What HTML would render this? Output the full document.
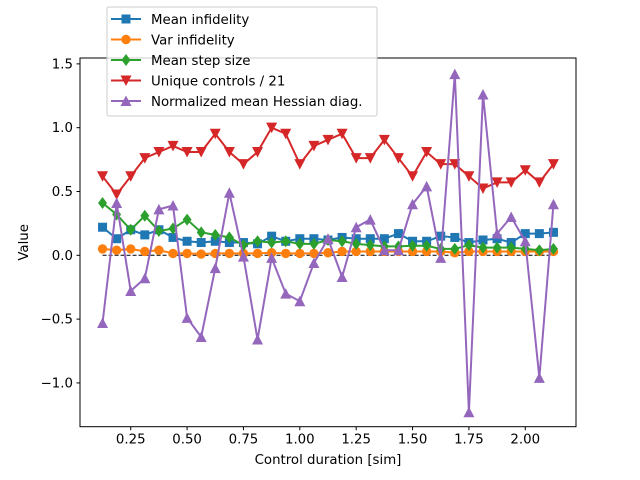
<!DOCTYPE html>
<html><head><meta charset="utf-8"><style>
body{margin:0;background:#fff;}
svg{display:block;font-family:"DejaVu Sans","Liberation Sans",sans-serif;}
</style></head><body>
<svg id="chart" width="640" height="480" viewBox="0 0 640 480" xmlns="http://www.w3.org/2000/svg"></svg>
<script>
const durations = [];
for (let i = 0; i < 33; i++) durations.push(0.125 + i * 0.0625);
const meanInfidelity = [0.22,0.13,0.20,0.16,0.20,0.14,0.11,0.10,0.11,0.10,0.10,0.09,0.15,0.11,0.13,0.13,0.12,0.14,0.13,0.13,0.13,0.17,0.11,0.11,0.15,0.14,0.10,0.12,0.13,0.10,0.17,0.17,0.18];
const varInfidelity = [0.05,0.04,0.05,0.03,0.04,0.015,0.015,0.01,0.015,0.015,0.015,0.015,0.02,0.015,0.015,0.015,0.02,0.03,0.03,0.03,0.03,0.03,0.03,0.03,0.03,0.02,0.03,0.03,0.03,0.03,0.03,0.03,0.03];
const meanStepSize = [0.41,0.32,0.20,0.31,0.19,0.21,0.28,0.18,0.16,0.14,0.08,0.11,0.10,0.11,0.09,0.09,0.12,0.11,0.09,0.08,0.07,0.07,0.075,0.075,0.05,0.05,0.08,0.06,0.06,0.06,0.05,0.04,0.05];
const uniqueControls = [13,10,13,16,17,18,17,17,20,17,15,17,21,20,15,18,19,20,16,16,19,16,13,17,15,15,13,11,12,12,14,12,15];
const hessianDiag = [-0.53,0.41,-0.28,-0.18,0.36,0.39,-0.49,-0.64,-0.10,0.49,-0.01,-0.66,-0.02,-0.30,-0.36,-0.06,0.13,-0.17,0.22,0.28,0.04,0.04,0.40,0.54,-0.02,1.42,-1.23,1.26,0.17,0.30,0.11,-0.96,0.40];
const xTicks = [0.25,0.5,0.75,1.0,1.25,1.5,1.75,2.0];
const xTickLabels = ["0.25","0.50","0.75","1.00","1.25","1.50","1.75","2.00"];
const yTicks = [-1.0,-0.5,0.0,0.5,1.0,1.5];
const yTickLabels = ["\u22121.0","\u22120.5","0.0","0.5","1.0","1.5"];

const L=80,R=576,T=58,B=426.7;
const xMin=0.025,xMax=2.225,yMin=-1.343,yMax=1.546;
const X=v=>L+(v-xMin)/(xMax-xMin)*(R-L);
const Y=v=>B-(v-yMin)/(yMax-yMin)*(B-T);
const svg=document.getElementById('chart');
const NS='http://www.w3.org/2000/svg';
function mk(tag,attrs,parent){const e=document.createElementNS(NS,tag);for(const k in attrs)e.setAttribute(k,attrs[k]);(parent||svg).appendChild(e);return e;}

const zl=mk('line',{x1:X(durations[0]),x2:X(durations[durations.length-1]),y1:Y(0),y2:Y(0),stroke:'#000','stroke-width':1,'stroke-dasharray':'4,2'});



function marker(type,cx,cy,color,g){
  let e;
  if(type==='s') e=mk('rect',{x:cx-4.5,y:cy-4.5,width:9,height:9,fill:color},g);
  else if(type==='o') e=mk('circle',{cx:cx,cy:cy,r:4.7,fill:color},g);
  else if(type==='d') e=mk('polygon',{points:`${cx},${cy-6} ${cx+4.5},${cy} ${cx},${cy+6} ${cx-4.5},${cy}`,fill:color},g);
  else if(type==='v') e=mk('polygon',{points:`${cx-5.5},${cy-5} ${cx+5.5},${cy-5} ${cx},${cy+5.5}`,fill:color},g);
  else e=mk('polygon',{points:`${cx-5.5},${cy+5} ${cx+5.5},${cy+5} ${cx},${cy-5.5}`,fill:color},g);
  return e;
}
const series=[
 {name:'Mean infidelity',vals:meanInfidelity,color:'#1f77b4',m:'s',id:'mean-infidelity'},
 {name:'Var infidelity',vals:varInfidelity,color:'#ff7f0e',m:'o',id:'var-infidelity'},
 {name:'Mean step size',vals:meanStepSize,color:'#2ca02c',m:'d',id:'mean-step-size'},
 {name:'Unique controls / 21',vals:uniqueControls.map(v=>v/21),color:'#d62728',m:'v',id:'unique-controls'},
 {name:'Normalized mean Hessian diag.',vals:hessianDiag,color:'#9467bd',m:'^',id:'hessian-diag'}
];
series.forEach(s=>{
  const g=mk('g',{});
  
  
  const pts=s.vals.map((v,i)=>X(durations[i])+','+Y(v)).join(' ');
  mk('polyline',{points:pts,fill:'none',stroke:s.color,'stroke-width':2},g);
  s.vals.forEach((v,i)=>{
    const p=marker(s.m,X(durations[i]),Y(v),s.color,g);
    
    
  });
});

const fr=mk('rect',{x:L,y:T,width:R-L,height:B-T,fill:'none',stroke:'#000','stroke-width':1});



xTicks.forEach((t,i)=>{
  mk('line',{x1:X(t),x2:X(t),y1:B,y2:B+3.5,stroke:'#000'});
  const tx=mk('text',{x:X(t),y:B+17,'font-size':'10pt','text-anchor':'middle',fill:'#000'});
  tx.textContent=xTickLabels[i];
  
  
});
yTicks.forEach((t,i)=>{
  mk('line',{x1:L,x2:L-3.5,y1:Y(t),y2:Y(t),stroke:'#000'});
  const tx=mk('text',{x:L-7,y:Y(t)+4.5,'font-size':'10pt','text-anchor':'end',fill:'#000'});
  tx.textContent=yTickLabels[i];
  
  
});
const xt=mk('text',{x:(L+R)/2,y:464,'font-size':'10pt','text-anchor':'middle'});
xt.textContent='Control duration [sim]';


const yt=mk('text',{x:0,y:0,'font-size':'10pt','text-anchor':'middle',transform:`translate(28,${(T+B)/2}) rotate(-90)`});
yt.textContent='Value';



const lg=mk('g',{});


mk('rect',{x:107,y:7,width:270,height:109,rx:2,fill:'#fff','fill-opacity':0.8,stroke:'#ccc'},lg);
series.forEach((s,i)=>{
  const e=mk('g',{},lg);
  
  
  const y=19+i*20.5;
  mk('line',{x1:111,x2:141,y1:y,y2:y,stroke:s.color,'stroke-width':2},e);
  marker(s.m,126,y,s.color,e);
  const t=mk('text',{x:151,y:y+5,'font-size':'10pt',fill:'#000'},e);
  t.textContent=s.name;
});
</script>
</body></html>
